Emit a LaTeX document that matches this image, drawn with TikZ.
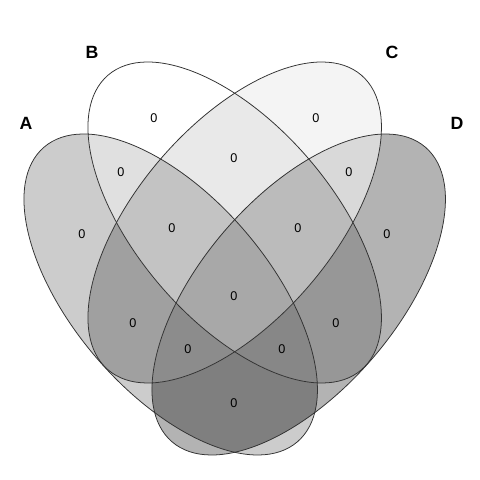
\documentclass[tikz,border=0pt]{standalone}
\usepackage{fontspec}
\setmainfont{Liberation Sans}
\definecolor{cA}{HTML}{CCCCCC}
\definecolor{cB}{HTML}{FFFFFF}
\definecolor{cC}{HTML}{F4F4F4}
\definecolor{cD}{HTML}{B3B3B3}
\definecolor{cAB}{HTML}{E0E0E0}
\definecolor{cAC}{HTML}{A0A0A0}
\definecolor{cAD}{HTML}{7F7F7F}
\definecolor{cBC}{HTML}{E9E9E9}
\definecolor{cBD}{HTML}{979797}
\definecolor{cCD}{HTML}{D9D9D9}
\definecolor{cABC}{HTML}{C3C3C3}
\definecolor{cABD}{HTML}{878787}
\definecolor{cACD}{HTML}{8C8C8C}
\definecolor{cBCD}{HTML}{BBBBBB}
\definecolor{cABCD}{HTML}{A8A8A8}
\begin{document}
\begin{tikzpicture}[x=0.025cm,y=0.025cm,
  rr/.style={x radius=194.3,y radius=97.6},
  eA/.style={shift={(170.7,185.5)},rotate=-49.3},
  eB/.style={shift={(234.7,257.5)},rotate=-49.3},
  eC/.style={shift={(234.7,257.5)},rotate=49.3},
  eD/.style={shift={(298.7,185.5)},rotate=49.3},
  outline/.style={draw=black!80,line width=0.55pt},
  num/.style={font=\fontsize{9}{10}\selectfont, inner sep=0pt},
  cat/.style={font=\fontsize{12.6}{14}\selectfont\bfseries, inner sep=0pt}]
\useasboundingbox (0,0) rectangle (480,480);
% single sets
\fill[eA,fill=cA] (0,0) ellipse[rr];
\fill[eB,fill=cB] (0,0) ellipse[rr];
\fill[eC,fill=cC] (0,0) ellipse[rr];
\fill[eD,fill=cD] (0,0) ellipse[rr];
% pairs
\begin{scope}\clip[eA] (0,0) ellipse[rr]; \fill[eB,fill=cAB] (0,0) ellipse[rr];\end{scope}
\begin{scope}\clip[eA] (0,0) ellipse[rr]; \fill[eC,fill=cAC] (0,0) ellipse[rr];\end{scope}
\begin{scope}\clip[eA] (0,0) ellipse[rr]; \fill[eD,fill=cAD] (0,0) ellipse[rr];\end{scope}
\begin{scope}\clip[eB] (0,0) ellipse[rr]; \fill[eC,fill=cBC] (0,0) ellipse[rr];\end{scope}
\begin{scope}\clip[eB] (0,0) ellipse[rr]; \fill[eD,fill=cBD] (0,0) ellipse[rr];\end{scope}
\begin{scope}\clip[eC] (0,0) ellipse[rr]; \fill[eD,fill=cCD] (0,0) ellipse[rr];\end{scope}
% triples
\begin{scope}\clip[eA] (0,0) ellipse[rr]; \clip[eB] (0,0) ellipse[rr]; \fill[eC,fill=cABC] (0,0) ellipse[rr];\end{scope}
\begin{scope}\clip[eA] (0,0) ellipse[rr]; \clip[eB] (0,0) ellipse[rr]; \fill[eD,fill=cABD] (0,0) ellipse[rr];\end{scope}
\begin{scope}\clip[eA] (0,0) ellipse[rr]; \clip[eC] (0,0) ellipse[rr]; \fill[eD,fill=cACD] (0,0) ellipse[rr];\end{scope}
\begin{scope}\clip[eB] (0,0) ellipse[rr]; \clip[eC] (0,0) ellipse[rr]; \fill[eD,fill=cBCD] (0,0) ellipse[rr];\end{scope}
% all four
\begin{scope}\clip[eA] (0,0) ellipse[rr]; \clip[eB] (0,0) ellipse[rr]; \clip[eC] (0,0) ellipse[rr]; \fill[eD,fill=cABCD] (0,0) ellipse[rr];\end{scope}
% outlines
\draw[eA,outline] (0,0) ellipse[rr];
\draw[eB,outline] (0,0) ellipse[rr];
\draw[eC,outline] (0,0) ellipse[rr];
\draw[eD,outline] (0,0) ellipse[rr];
% set labels
\node[cat] (lA) at (26,357) {A};
\node[cat] (lB) at (92,428) {B};
\node[cat] (lC) at (392,428) {C};
\node[cat] (lD) at (457,357) {D};
% counts
\node[num] (nA) at (82,246) {0};
\node[num] (nB) at (154,362) {0};
\node[num] (nC) at (316,362) {0};
\node[num] (nD) at (387,246) {0};
\node[num] (nAB) at (121,308) {0};
\node[num] (nBC) at (234,322) {0};
\node[num] (nCD) at (349,308) {0};
\node[num] (nABC) at (172,252) {0};
\node[num] (nBCD) at (298,252) {0};
\node[num] (nAC) at (133,157) {0};
\node[num] (nBD) at (336,157) {0};
\node[num] (nABCD) at (234,184) {0};
\node[num] (nACD) at (188,131) {0};
\node[num] (nABD) at (282,131) {0};
\node[num] (nAD) at (234,77) {0};
\end{tikzpicture}
\end{document}
